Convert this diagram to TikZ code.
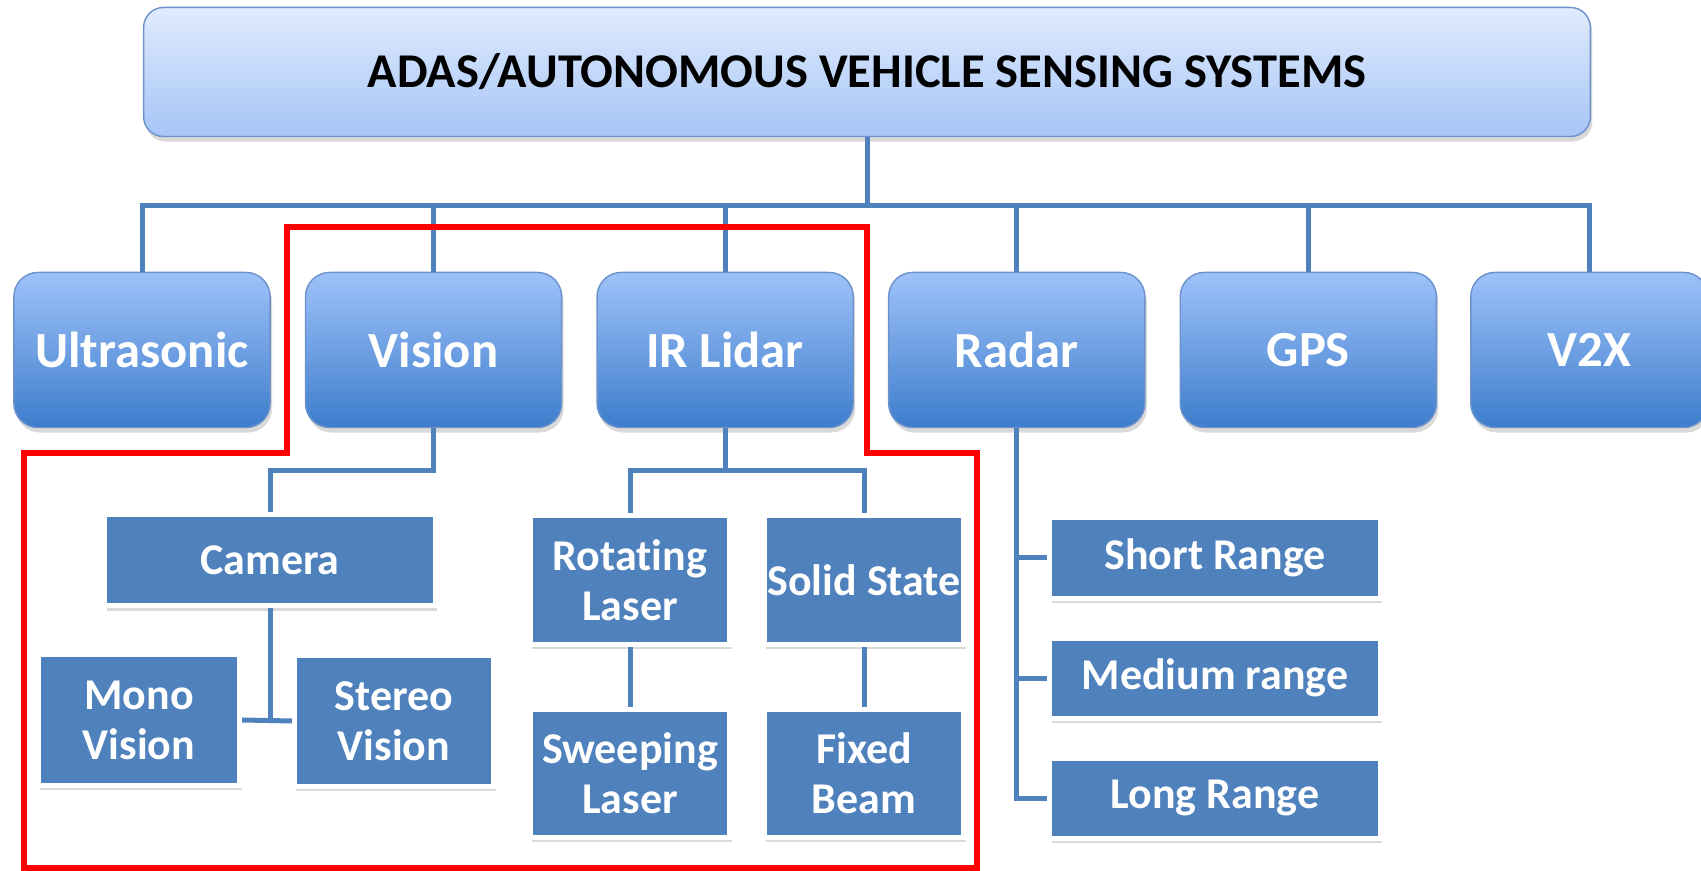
\documentclass[tikz,border=0pt]{standalone}
\usepackage{fontspec}
\setmainfont[Ligatures=NoCommon]{Carlito}
\usetikzlibrary{positioning,shadows,calc}

\definecolor{headtop}{RGB}{224,235,253}
\definecolor{headbot}{RGB}{166,197,247}
\definecolor{senstop}{RGB}{158,194,249}
\definecolor{sensbot}{RGB}{62,125,204}
\definecolor{boxline}{RGB}{108,146,204}
\definecolor{leafblue}{RGB}{79,129,189}
\definecolor{linkblue}{RGB}{79,129,189}

\tikzset{
  head/.style={draw=boxline, rounded corners=0.2cm, top color=headtop, bottom color=headbot,
    minimum width=14.46cm, minimum height=1.29cm,
    font=\bfseries\fontsize{13.8}{17}\selectfont,
    drop shadow={shadow xshift=0.02cm, shadow yshift=-0.05cm, opacity=0.3}},
  sensor/.style={draw=boxline, rounded corners=0.24cm, top color=senstop, bottom color=sensbot,
    minimum width=2.56cm, minimum height=1.55cm, text=white,
    font=\bfseries\fontsize{14.4}{17}\selectfont,
    drop shadow={shadow xshift=0.02cm, shadow yshift=-0.05cm, opacity=0.3}},
  leaf/.style={fill=leafblue, draw=white, line width=0.05cm, text=white, align=center,
    inner sep=0pt, font=\bfseries\fontsize{12.5}{14.2}\selectfont,
    drop shadow={shadow xshift=0.02cm, shadow yshift=-0.05cm, opacity=0.3}},
  tall/.style={minimum width=1.99cm, minimum height=1.28cm},
  wide/.style={minimum width=3.30cm, minimum height=0.80cm},
  link/.style={draw=linkblue, line width=0.05cm},
  redframe/.style={draw=red, line width=0.065cm}
}

\begin{document}
\begin{tikzpicture}[x=0.01cm, y=-0.01cm]
  \useasboundingbox (0,0) rectangle (1701,871);
  \clip (0,0) rectangle (1701,871);

  \node[head] (sys) at (867,72) {ADAS/AUTONOMOUS VEHICLE SENSING SYSTEMS};

  \node[sensor] (ultra) at (142,350) {Ultrasonic};
  \node[sensor, right=0.34cm of ultra] (vision) {Vision};
  \node[sensor, right=0.34cm of vision] (lidar) {IR Lidar};
  \node[sensor, right=0.34cm of lidar] (radar) {Radar};
  \node[sensor, right=0.34cm of radar] (gps) {GPS};
  \node[sensor, right=0.33cm of gps, minimum width=2.37cm] (v2x) {V2X};

  \node[leaf, minimum width=3.30cm, minimum height=0.91cm] (camera) at (270,560) {Camera};
  \node[leaf, minimum width=2.01cm, minimum height=1.30cm] (mono) at (139,720) {Mono\\Vision};
  \node[leaf, minimum width=1.99cm, minimum height=1.30cm] (stereo) at (394,721) {Stereo\\Vision};

  \node[leaf, tall] (rotating) at (630,580) {Rotating\\Laser};
  \node[leaf, tall] (solid) at (864,580) {Solid State};
  \node[leaf, tall, below=0.6cm of rotating] (sweeping) {Sweeping\\Laser};
  \node[leaf, tall, below=0.6cm of solid] (fixed) {Fixed\\Beam};

  \node[leaf, wide] (short) at (1215,558) {Short Range};
  \node[leaf, wide, below=0.35cm of short] (medium) {Medium range};
  \node[leaf, wide, below=0.35cm of medium] (long) {Long Range};

  \draw[link] (sys.south) -- ++(0,68) coordinate (bus);
  \draw[link] (ultra.north) |- (bus) -| (v2x.north);
  \foreach \n in {vision,lidar,radar,gps}
    \draw[link] (\n.north) -- (\n.north |- bus);

  \draw[link] (vision.south) -- ++(0,42) -| (camera.north);
  \draw[link] (camera.south) -- (camera.south |- mono.east);
  \draw[link] (mono.east) -- (stereo.west);

  \draw[link] (lidar.south) -- ++(0,42) coordinate (split);
  \draw[link] (rotating.north) |- (split) -| (solid.north);
  \draw[link] (rotating.south) -- (sweeping.north);
  \draw[link] (solid.south) -- (fixed.north);

  \draw[link] (radar.south) |- (long.west);
  \draw[link] (radar.south |- short.west) -- (short.west);
  \draw[link] (radar.south |- medium.west) -- (medium.west);

  \draw[redframe] (287,227) -- (867,227) -- (867,453) -- (977,453) -- (977,868)
    -- (24,868) -- (24,453) -- (287,453) -- cycle;
\end{tikzpicture}
\end{document}
